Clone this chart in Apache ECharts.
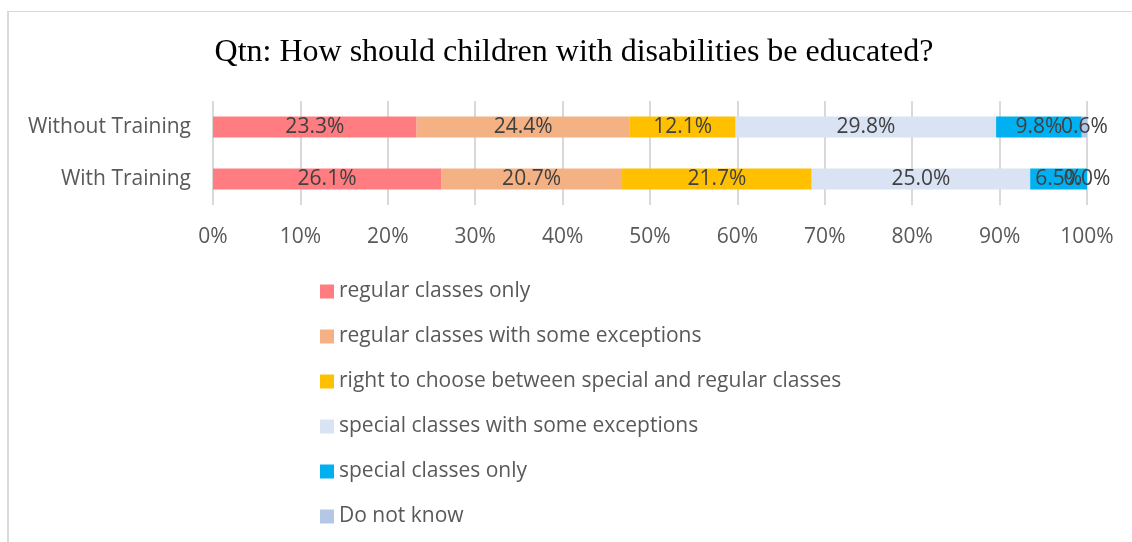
<!DOCTYPE html>
<html>
<head>
<meta charset="utf-8">
<script src="https://cdn.jsdelivr.net/npm/echarts@6/dist/echarts.min.js"></script>
<style>
html,body{margin:0;padding:0;background:#fff;}
#frame{position:absolute;left:7px;top:11px;width:1200px;height:600px;border-top:1px solid #D9D9D9;border-left:2px solid #D9D9D9;box-sizing:border-box;}
#chart{position:absolute;left:0;top:0;width:1132px;height:542px;}
</style>
</head>
<body>
<div id="frame"></div>
<div id="chart"></div>
<script>
const categories = ['With Training', 'Without Training'];
const seriesNames = [
  'regular classes only',
  'regular classes with some exceptions',
  'right to choose between special and regular classes',
  'special classes with some exceptions',
  'special classes only',
  'Do not know'
];
// values ordered as [With Training, Without Training]
const regularOnly = [26.1, 23.3];
const regularExceptions = [20.7, 24.4];
const rightToChoose = [21.7, 12.1];
const specialExceptions = [25.0, 29.8];
const specialOnly = [6.5, 9.8];
const doNotKnow = [0.0, 0.6];
const colors = ['#FF7C80', '#F4B183', '#FFC000', '#DAE3F3', '#00B0F0', '#B4C7E7'];
const allValues = [regularOnly, regularExceptions, rightToChoose, specialExceptions, specialOnly, doNotKnow];

const chart = echarts.init(document.getElementById('chart'));
const font = '"Open Sans", "Noto Sans", sans-serif';
chart.setOption({
  animation: false,
  title: {
    text: 'Qtn: How should children with disabilities be educated?',
    left: 569, top: 32, textAlign: 'center',
    textStyle: { fontFamily: '"Liberation Serif", "Times New Roman", serif', fontSize: 32, fontWeight: 'normal', color: '#000' }
  },
  legend: {
    orient: 'vertical', left: 320, top: 281, padding: 0,
    itemWidth: 14, itemHeight: 14, itemGap: 24,
    icon: 'rect',
    data: seriesNames,
    textStyle: { fontFamily: font, fontSize: 21, color: '#595959', lineHeight: 21, padding: [0, 0, 0, 0] }
  },
  grid: { left: 213, right: 45, top: 101, height: 104 },
  xAxis: {
    type: 'value', min: 0, max: 100, interval: 10,
    axisLine: { show: false }, axisTick: { show: false },
    axisLabel: { formatter: '{value}%', fontFamily: font, fontSize: 21, color: '#595959', margin: 22 },
    splitLine: { show: true, lineStyle: { color: '#D9D9D9', width: 2 } }
  },
  yAxis: {
    type: 'category', data: categories,
    axisLine: { show: false }, axisTick: { show: false },
    axisLabel: { fontFamily: font, fontSize: 21, color: '#595959', margin: 22 }
  },
  series: seriesNames.map((name, i) => ({
    name, type: 'bar', stack: 'total', barWidth: 21,
    itemStyle: { color: colors[i] },
    label: {
      show: true, position: 'inside',
      formatter: p => p.value.toFixed(1) + '%',
      fontFamily: font, fontSize: 21, color: '#404040'
    },
    data: allValues[i]
  }))
});
</script>
</body>
</html>
